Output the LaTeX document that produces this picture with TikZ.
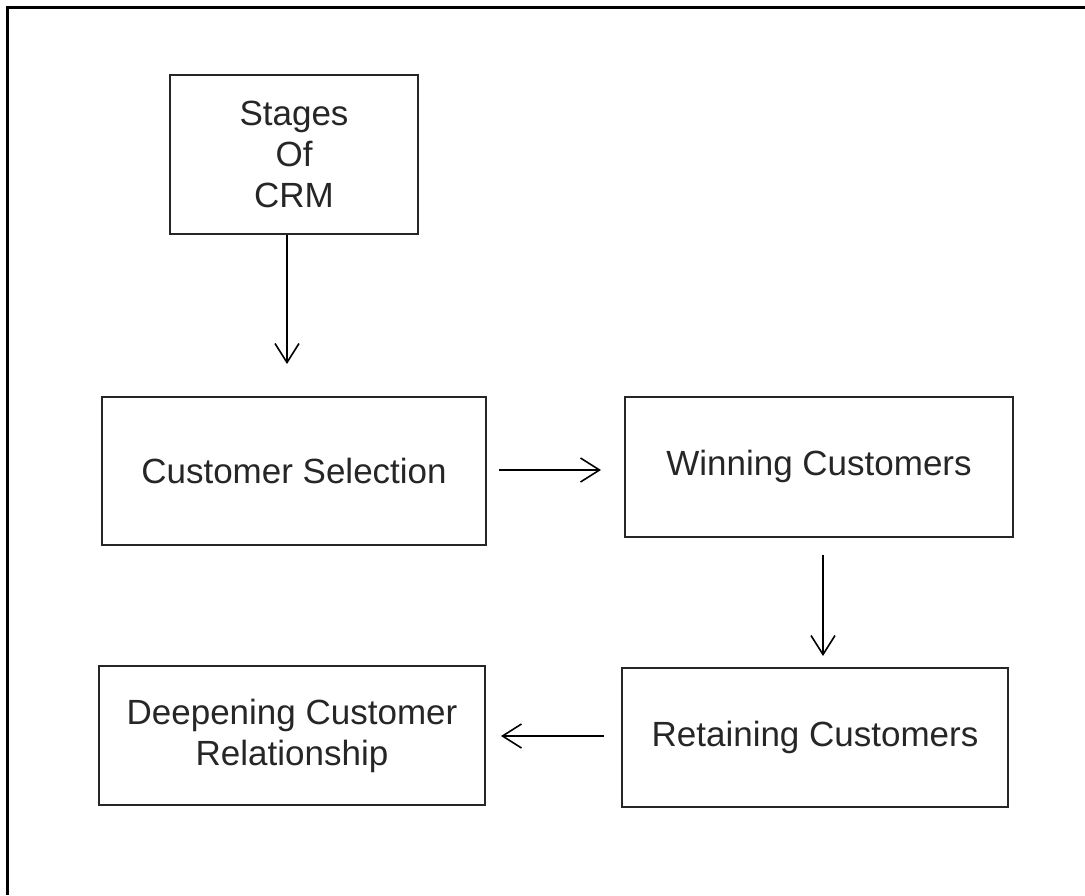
\documentclass[tikz,border=0pt]{standalone}
\usepackage{fontspec}
\setmainfont{Liberation Sans}
\usetikzlibrary{arrows.meta}
\begin{document}
\begin{tikzpicture}[x=1pt,y=-1pt,
    stagebox/.style={draw=black!85,line width=2pt,inner sep=0pt,align=center,
        font=\fontsize{35}{41}\selectfont,text=black!85},
    flow/.style={line width=1.6pt,-{Straight Barb[length=19pt,width=24pt,line width=1.6pt]}}]
                \useasboundingbox (0,0) rectangle (1085,895);
                \coordinate (TL) at (7,7);
                \coordinate (TR) at (1085,7);
                \coordinate (BL) at (7,895);
                \draw[line width=3pt] (TR) -- (TL) -- (BL);
                \node[stagebox,minimum width=248pt,minimum height=159pt] (stages) at (294,154.5) {Stages\\Of\\CRM};
                \node[stagebox,minimum width=384pt,minimum height=148pt] (select) at (294,471) {Customer Selection};
                \node[stagebox,minimum width=388pt,minimum height=140pt] (win) at (819,466.5) {Winning Customers};
                \node[stagebox,minimum width=386pt,minimum height=139pt] (retain) at (815,737.5) {Retaining Customers};
                \node[stagebox,minimum width=386pt,minimum height=139pt] (deepen) at (292,735.5) {Deepening Customer\\Relationship};
                \draw[flow,shorten >=32pt] ([xshift=-7pt]stages.south) -- ([xshift=-7pt]select.north);
                \draw[flow,shorten <=12pt,shorten >=23pt] ([yshift=1pt]select.east) -- ([yshift=1pt]select.east -| win.west);
                \draw[flow,shorten <=17pt,shorten >=11pt] ([xshift=4pt]win.south) -- ([xshift=8pt]retain.north);
                \draw[flow,shorten <=17pt,shorten >=15pt] ([yshift=1.5pt]retain.west) -- ([yshift=1.5pt]retain.west -| deepen.east);
\end{tikzpicture}
\end{document}
